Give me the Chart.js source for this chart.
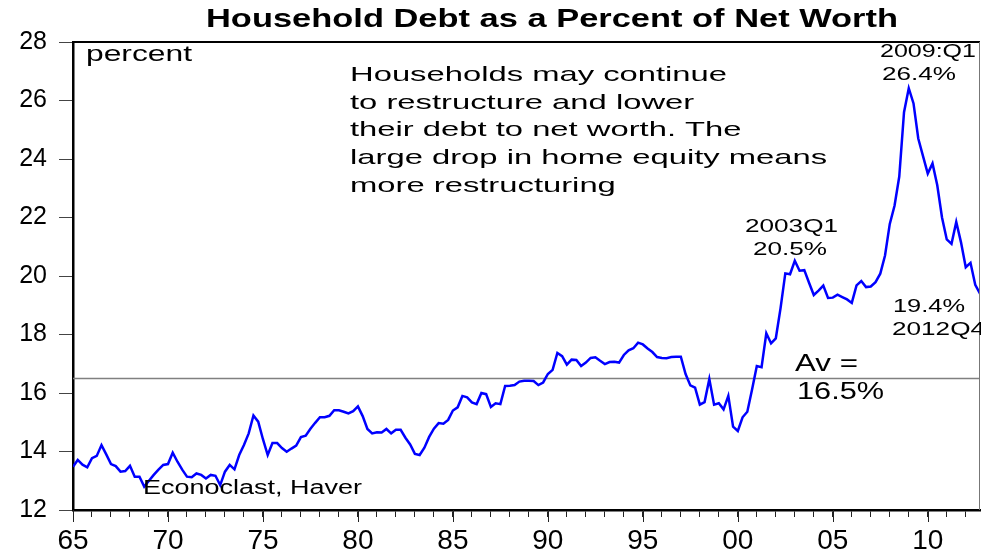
<!DOCTYPE html>
<html>
<head>
<meta charset="utf-8">
<script src="https://cdn.jsdelivr.net/npm/chart.js@4.4.1/dist/chart.umd.min.js"></script>
<style>
  html, body { margin: 0; padding: 0; background: #fff; }
</style>
</head>
<body>
<canvas id="chart" width="981" height="550"></canvas>
<script>
// quarterly data, 1965Q1 .. 2012Q4
const startYear = 1965;
const debt1965to1979 = [
  13.48, 13.71, 13.55, 13.46,  13.77, 13.85, 14.22, 13.9,   13.57, 13.5, 13.31, 13.33,
  13.51, 13.14, 13.14, 12.8,   13.0, 13.2, 13.38, 13.54,    13.57, 13.96, 13.65, 13.38,
  13.14, 13.12, 13.25, 13.2,   13.08, 13.2, 13.17, 12.85,   13.31, 13.54, 13.39, 13.88,
  14.22, 14.62, 15.23, 15.02,  14.42, 13.88, 14.29, 14.29,  14.12, 13.99, 14.1, 14.2,
  14.49, 14.54, 14.78, 14.98,  15.17, 15.17, 15.22, 15.41,  15.41, 15.36, 15.3, 15.38
];
const debt1980to1994 = [
  15.54, 15.21, 14.77, 14.62,  14.66, 14.65, 14.77, 14.62,  14.74, 14.74, 14.47, 14.24,
  13.92, 13.88, 14.13, 14.5,   14.78, 14.97, 14.95, 15.08,  15.4, 15.51, 15.9, 15.85,
  15.68, 15.62, 16.0, 15.96,   15.52, 15.65, 15.62, 16.24,  16.25, 16.27, 16.39, 16.42,
  16.42, 16.41, 16.27, 16.36,  16.65, 16.79, 17.37, 17.26,  16.97, 17.14, 17.13, 16.92,
  17.04, 17.2, 17.22, 17.1,    16.99, 17.06, 17.07, 17.04,  17.3, 17.46, 17.53, 17.72
];
const debt1995to2012 = [
  17.66, 17.52, 17.4, 17.23,   17.2, 17.19, 17.23, 17.24,   17.24, 16.65, 16.26, 16.18,
  15.6, 15.69, 16.48, 15.6,    15.65, 15.44, 15.9, 14.85,   14.7, 15.17, 15.36, 16.12,
  16.92, 16.88, 18.04, 17.7,   17.87, 18.9, 20.09, 20.06,   20.52, 20.18, 20.2, 19.77,
  19.35, 19.5, 19.67, 19.25,   19.26, 19.36, 19.28, 19.2,   19.08, 19.68, 19.83, 19.62,
  19.64, 19.79, 20.08, 20.7,   21.78, 22.4, 23.4, 25.6,     26.42, 25.9, 24.7, 24.1,
  23.5, 23.85, 23.1, 22.0,     21.25, 21.1, 21.85, 21.15,   20.3, 20.45, 19.7, 19.4
];
const debtRatio = debt1965to1979.concat(debt1980to1994, debt1995to2012);
const averageRatio = 16.5;
const yMin = 12, yMax = 28, yStep = 2;
const majorYears = [1965, 1970, 1975, 1980, 1985, 1990, 1995, 2000, 2005, 2010];

const lastX = startYear + (debtRatio.length - 1) / 4;
const debtPoints = debtRatio.map((v, i) => ({ x: startYear + i / 4, y: v }));
const avgPoints = [{ x: startYear, y: averageRatio }, { x: lastX, y: averageRatio }];

const FONT = '"Liberation Sans", Arial, sans-serif';

function drawFitted(ctx, str, x, y, width, font) {
  ctx.font = font;
  const sx = width / ctx.measureText(str).width;
  ctx.save();
  ctx.translate(x, y);
  ctx.scale(sx, 1);
  ctx.fillText(str, 0, 0);
  ctx.restore();
}

const decorations = {
  id: 'decorations',
  afterDraw(chart) {
    const { ctx, chartArea: a, scales: { x } } = chart;
    ctx.save();

    // longer ticks every 5 years
    ctx.strokeStyle = '#222';
    ctx.lineWidth = 1;
    majorYears.forEach(yr => {
      const px = Math.round(x.getPixelForValue(yr)) + 0.5;
      ctx.beginPath();
      ctx.moveTo(px, a.bottom);
      ctx.lineTo(px, a.bottom + 12);
      ctx.stroke();
    });

    // top and right edges of the frame
    ctx.strokeStyle = '#000';
    ctx.lineWidth = 2;
    ctx.beginPath();
    ctx.moveTo(a.left - 1, a.top);
    ctx.lineTo(a.right, a.top);
    ctx.stroke();
    ctx.strokeStyle = '#777';
    ctx.lineWidth = 1;
    ctx.beginPath();
    ctx.moveTo(a.right - 0.5, a.top);
    ctx.lineTo(a.right - 0.5, a.bottom);
    ctx.stroke();

    ctx.fillStyle = '#000';
    ctx.textBaseline = 'middle';
    ctx.textAlign = 'left';

    drawFitted(ctx, 'Household Debt as a Percent of Net Worth', 206, 20, 692, 'bold 26px ' + FONT);
    drawFitted(ctx, 'percent', 86, 55, 106, '22px ' + FONT);

    const note = [
      'Households may continue',
      'to restructure and lower',
      'their debt to net worth. The',
      'large drop in home equity means',
      'more restructuring'
    ];
    ctx.font = '21px ' + FONT;
    const sx = 377 / ctx.measureText(note[0]).width;
    note.forEach((line, i) => {
      ctx.save();
      ctx.translate(350, 75 + i * 27.8);
      ctx.scale(sx, 1);
      ctx.fillText(line, 0, 0);
      ctx.restore();
    });

    drawFitted(ctx, '2003Q1', 745, 227, 93, '18px ' + FONT);
    drawFitted(ctx, '20.5%', 753, 250, 74, '18px ' + FONT);
    drawFitted(ctx, '2009:Q1', 880, 52, 96, '18px ' + FONT);
    drawFitted(ctx, '26.4%', 882, 75, 74, '18px ' + FONT);
    drawFitted(ctx, '19.4%', 893, 307, 72, '18px ' + FONT);
    drawFitted(ctx, '2012Q4', 892, 330, 93, '18px ' + FONT);
    drawFitted(ctx, 'Av =', 795, 365, 63, '23px ' + FONT);
    drawFitted(ctx, '16.5%', 797, 393, 87, '23px ' + FONT);
    drawFitted(ctx, 'Econoclast, Haver', 143, 488, 219, '20px ' + FONT);

    ctx.restore();
  }
};

new Chart(document.getElementById('chart'), {
  type: 'line',
  data: {
    datasets: [{
      data: debtPoints,
      borderColor: '#0000ff',
      borderWidth: 2.5,
      pointRadius: 0,
      tension: 0,
      order: 1
    }, {
      data: avgPoints,
      borderColor: '#808080',
      borderWidth: 1.5,
      pointRadius: 0,
      order: 2
    }]
  },
  options: {
    responsive: false,
    animation: false,
    layout: { padding: { top: 42, right: 1, left: 0, bottom: 0 } },
    plugins: {
      legend: { display: false },
      title: { display: false },
      tooltip: { enabled: false }
    },
    scales: {
      x: {
        type: 'linear',
        min: startYear,
        max: lastX,
        afterFit: s => { s.height = 40; },
        border: { display: true, color: '#000', width: 2.5 },
        grid: { drawOnChartArea: false, tickLength: 7, color: '#222' },
        ticks: {
          stepSize: 1,
          autoSkip: false,
          includeBounds: false,
          maxRotation: 0,
          padding: 7,
          color: '#000',
          font: { family: FONT, size: 28 },
          callback: v => (v % 5 === 0 ? String(v % 100).padStart(2, '0') : '')
        }
      },
      y: {
        min: yMin,
        max: yMax,
        afterFit: s => { s.width = 73; },
        border: { display: true, color: '#000', width: 2.5 },
        grid: { drawOnChartArea: false, tickLength: 14, color: '#444' },
        ticks: {
          stepSize: yStep,
          padding: 12,
          color: '#000',
          font: { family: FONT, size: 25 }
        }
      }
    }
  },
  plugins: [decorations]
});
</script>
</body>
</html>
